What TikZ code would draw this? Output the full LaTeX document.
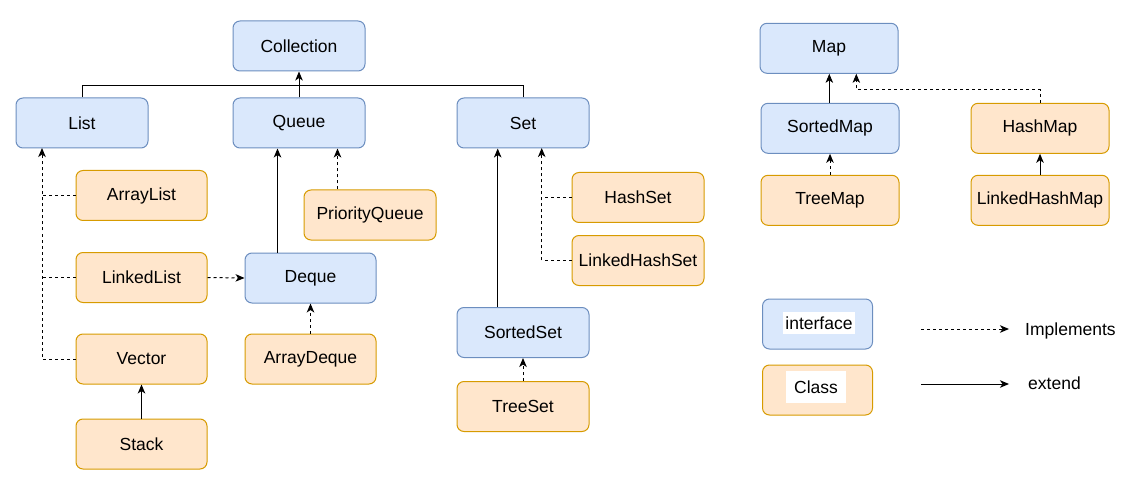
\documentclass[tikz,border=0pt]{standalone}
\usepackage{fontspec}
\setmainfont{Liberation Sans}
\usetikzlibrary{arrows.meta,calc}
\definecolor{ifill}{HTML}{DAE8FC}
\definecolor{idraw}{HTML}{6C8EBF}
\definecolor{cfill}{HTML}{FFE6CC}
\definecolor{cdraw}{HTML}{D79B00}
\tikzset{
  box/.style={rounded corners=7pt, line width=1pt, minimum width=132pt, minimum height=50pt, inner sep=0pt,
    font=\fontsize{17.5}{21}\selectfont},
  ibox/.style={box, fill=ifill, draw=idraw},
  cbox/.style={box, fill=cfill, draw=cdraw},
  tip/.style={-{Stealth[length=9pt,width=7.5pt,inset=2.5pt]}},
  ext/.style={tip, line width=1pt, black},
  impl/.style={tip, line width=1pt, black, dash pattern=on 3pt off 3pt},
  dline/.style={line width=1pt, black, dash pattern=on 3pt off 3pt},
  sline/.style={line width=1pt, black},
  lbl/.style={font=\fontsize{17.5}{21}\selectfont, inner sep=0pt},
}
\begin{document}
\begin{tikzpicture}[x=1pt,y=-1pt]
\useasboundingbox (0,0) rectangle (1147,494);
% Collection hierarchy
\node[ibox] (coll) at (299,46) {Collection};
\node[ibox] (list) at (82,123) {List};
\node[ibox] (queue) at (299,123) {Queue};
\node[ibox] (set) at (523,123) {Set};
\node[cbox, minimum width=131pt] (arraylist) at (141.5,195.5) {ArrayList};
\node[cbox, minimum width=131pt] (linkedlist) at (141.5,277.5) {LinkedList};
\node[cbox, minimum width=131pt] (vector) at (141.5,359) {Vector};
\node[cbox, minimum width=131pt] (stack) at (141.5,444) {Stack};
\node[cbox] (pq) at (370,215) {PriorityQueue};
\node[ibox, minimum width=131pt] (deque) at (310.5,278) {Deque};
\node[cbox, minimum width=131pt] (arraydeque) at (310.5,359) {ArrayDeque};
\node[cbox] (hashset) at (638,197.5) {HashSet};
\node[cbox] (lhashset) at (638,260.5) {LinkedHashSet};
\node[ibox] (sortedset) at (523,332.5) {SortedSet};
\node[cbox] (treeset) at (523,406.5) {TreeSet};
% Map hierarchy
\node[ibox, minimum width=138pt] (map) at (829,48.3) {Map};
\node[ibox, minimum width=138pt] (sortedmap) at (830,128.3) {SortedMap};
\node[cbox, minimum width=138pt] (hashmap) at (1040,128.3) {HashMap};
\node[cbox, minimum width=138pt] (treemap) at (830,200.3) {TreeMap};
\node[cbox, minimum width=138pt] (lhashmap) at (1040,200.3) {LinkedHashMap};
% Legend
\node[ibox, minimum width=110pt] (lint) at (817.5,324) {};
\node[lbl, fill=white, minimum width=72pt, minimum height=22pt] (lintt) at (819,323) {interface};
\node[cbox, minimum width=110pt] (lcls) at (817.5,390) {};
\node[lbl, fill=white, minimum width=60pt, minimum height=32pt] (lclst) at (816,387) {Class};
\coordinate (i1) at (921,329);
\coordinate (i2) at (1009,329);
\coordinate (e1) at (921,384);
\coordinate (e2) at (1009,384);
\node[lbl, anchor=west] (limpl) at (1025,331) {Implements};
\node[lbl, anchor=west] (lext) at (1028,383) {extend};
\draw[impl] (i1) -- (i2);
\draw[ext] (e1) -- (e2);
% Collection connectors
\coordinate (cj) at (299,86);
\draw[sline] (list.north) |- (cj);
\draw[sline] (set.north) |- (cj);
\draw[ext] (queue.north) -- (coll.south);
% List
\coordinate (ltip) at (42,148);
\draw[impl] (vector.west) -| (ltip);
\draw[dline] (arraylist.west) -- (arraylist.west -| ltip);
\draw[dline] (linkedlist.west) -- (linkedlist.west -| ltip);
\draw[ext] (stack.north) -- (vector.south);
\draw[impl] (linkedlist.east) -- (deque.west);
% Queue
\draw[ext] ([xshift=-33pt]deque.north) -- ([xshift=-33pt]deque.north |- queue.south);
\draw[impl] ([xshift=-32.5pt]pq.north) -- ([xshift=-32.5pt]pq.north |- queue.south);
\draw[impl] (arraydeque.north) -- (deque.south);
% Set
\coordinate (stip) at (541.7,148);
\draw[impl] (lhashset.west) -| (stip);
\draw[dline] (hashset.west) -- (hashset.west -| stip);
\draw[ext] ([xshift=-25.3pt]sortedset.north) -- ([xshift=-25.3pt]sortedset.north |- set.south);
\draw[impl] (treeset.north) -- (sortedset.south);
% Map
\draw[ext] ([xshift=-0.7pt]sortedmap.north) -- ([xshift=-0.7pt]sortedmap.north |- map.south);
\draw[impl] (hashmap.north) -- ++(0,-13) -| ([xshift=27.3pt]map.south);
\draw[impl] (treemap.north) -- (sortedmap.south);
\draw[ext] (lhashmap.north) -- (hashmap.south);
\end{tikzpicture}
\end{document}
